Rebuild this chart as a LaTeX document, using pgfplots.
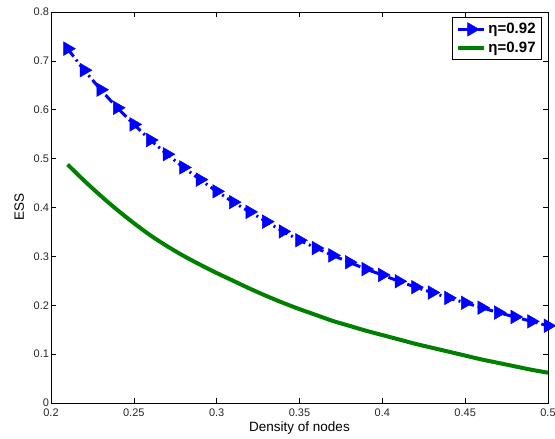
\documentclass[border=0pt]{standalone}
\usepackage{pgfplots}
\pgfplotsset{compat=1.18}
\usepackage{fontspec}
\setmainfont{Liberation Sans}
\begin{document}
\begin{tikzpicture}
\begin{axis}[
  name=ax,
  scale only axis,
  width=497pt, height=391pt,
  xmin=0.2, xmax=0.5, ymin=0, ymax=0.8,
  xtick={0.2,0.25,...,0.5},
  ytick={0,0.1,...,0.8},
  xticklabels={0.2,0.25,0.3,0.35,0.4,0.45,0.5},
  yticklabels={0,0.1,0.2,0.3,0.4,0.5,0.6,0.7,0.8},
  tick align=inside,
  major tick length=5pt,
  tick style={black, line width=0.6pt},
  axis line style={black, line width=0.8pt},
  ticklabel style={font=\fontsize{11}{13}\selectfont, text=black!85},
  yticklabel style={xshift=1.5pt},
  xticklabel style={yshift=-2pt},
  /pgf/number format/assume math mode=true,
  xlabel={Density of nodes},
  ylabel={ESS},
  label style={font=\fontsize{13.5}{15}\selectfont},
  xlabel style={at={(axis description cs:0.5,-0.064)}, anchor=center},
  ylabel style={at={(axis description cs:-0.064,0.5)}, anchor=center},
  legend style={at={(axis description cs:1,1)}, anchor=north east, xshift=-6pt, yshift=-5pt,
    draw=black, line width=0.8pt,
    font=\bfseries\fontsize{15}{17}\selectfont, inner xsep=4pt, inner ysep=4pt, row sep=2.5pt,
    /tikz/every even column/.append style={column sep=0pt}},
  legend cell align=left,
  legend image code/.code={\draw[#1, mark repeat=2, mark phase=2] plot coordinates {(0pt,0pt) (13pt,0pt) (26pt,0pt)};},
]
\addplot[blue, line width=3pt, dash pattern=on 10pt off 4pt on 2pt off 4pt,
  mark=triangle*, mark size=7.8pt, mark options={solid, rotate=-90, fill=blue, line width=0.5pt}]
coordinates {
(0.21,0.725)(0.22,0.681)(0.23,0.641)(0.24,0.604)(0.25,0.570)(0.26,0.538)
(0.27,0.509)(0.28,0.482)(0.29,0.457)(0.30,0.433)(0.31,0.411)(0.32,0.391)
(0.33,0.371)(0.34,0.351)(0.35,0.333)(0.36,0.317)(0.37,0.302)(0.38,0.288)
(0.39,0.274)(0.40,0.262)(0.41,0.249)(0.42,0.237)(0.43,0.226)(0.44,0.215)
(0.45,0.205)(0.46,0.195)(0.47,0.185)(0.48,0.176)(0.49,0.167)(0.50,0.158)
};
\addlegendentry{η=0.92}
\addplot[color={rgb,255:red,0;green,128;blue,0}, line width=4pt, smooth]
coordinates {
(0.21,0.488)(0.22,0.455)(0.23,0.424)(0.24,0.395)(0.25,0.368)(0.26,0.343)
(0.27,0.321)(0.28,0.301)(0.29,0.283)(0.30,0.266)(0.31,0.250)(0.32,0.234)
(0.33,0.219)(0.34,0.205)(0.35,0.192)(0.36,0.180)(0.37,0.168)(0.38,0.158)
(0.39,0.148)(0.40,0.139)(0.41,0.130)(0.42,0.121)(0.43,0.113)(0.44,0.105)
(0.45,0.097)(0.46,0.089)(0.47,0.082)(0.48,0.075)(0.49,0.068)(0.50,0.062)
};
\addlegendentry{η=0.97}
\end{axis}
\pgfresetboundingbox
\path ([shift={(-51pt,-36pt)}]ax.south west) rectangle ([shift={(7pt,12pt)}]ax.north east);
\end{tikzpicture}
\end{document}
